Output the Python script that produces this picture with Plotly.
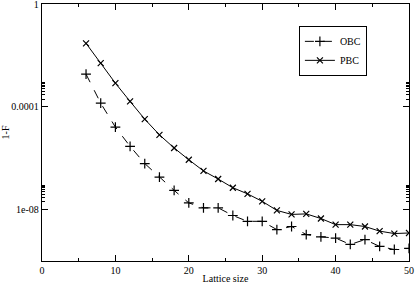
import plotly.graph_objects as go

lattice_size = [6, 8, 10, 12, 14, 16, 18, 20, 22, 24, 26, 28, 30, 32, 34, 36, 38, 40, 42, 44, 46, 48, 50]
obc = [1.86e-3, 1.38e-4, 1.62e-5, 2.9e-6, 6.2e-7, 1.82e-7, 5.6e-8, 1.82e-8, 1.17e-8, 1.17e-8,
       5.9e-9, 3.5e-9, 3.5e-9, 1.66e-9, 2.2e-9, 1.07e-9, 8.7e-10, 7.8e-10, 4.4e-10, 6.8e-10,
       3.7e-10, 2.8e-10, 3.1e-10]
pbc = [2.95e-2, 5.0e-3, 8.3e-4, 1.62e-4, 3.3e-5, 8.1e-6, 2.5e-6, 8.7e-7, 3.2e-7, 1.55e-7,
       7.1e-8, 4.1e-8, 2.1e-8, 9.3e-9, 6.5e-9, 6.8e-9, 4.5e-9, 2.6e-9, 2.6e-9, 2.2e-9,
       1.45e-9, 1.17e-9, 1.23e-9]
y_tickvals = [1, 1e-4, 1e-8]
y_ticktext = ["1", "0.0001", "1e-08"]
y_minor = [k * 1e-4 for k in range(2, 10)] + [k * 1e-8 for k in range(2, 10)]

font = "Liberation Serif, Times New Roman, serif"

fig = go.Figure()
fig.add_trace(go.Scatter(
    x=lattice_size, y=obc, name="OBC", mode="lines+markers",
    line=dict(color="black", width=1, dash="dash"),
    marker=dict(symbol="cross-thin", size=7, line=dict(color="black", width=1.2)),
))
fig.add_trace(go.Scatter(
    x=lattice_size, y=pbc, name="PBC", mode="lines+markers",
    line=dict(color="black", width=1),
    marker=dict(symbol="x-thin", size=6, line=dict(color="black", width=1.2)),
))

fig.update_layout(
    width=415, height=284,
    margin=dict(l=42, r=6, t=4, b=23, autoexpand=False),
    paper_bgcolor="white", plot_bgcolor="white",
    font=dict(family=font, size=10, color="black"),
    showlegend=True,
    legend=dict(x=0.70, y=0.915, xanchor="left", yanchor="top",
                bordercolor="black", borderwidth=1, bgcolor="white",
                font=dict(family=font, size=10), itemwidth=30,
                tracegroupgap=0),
)
fig.update_xaxes(
    range=[0, 50], tickvals=[0, 10, 20, 30, 40, 50],
    ticks="inside", ticklen=6, tickcolor="black",
    showline=True, linecolor="black", linewidth=1.3, mirror="ticks",
    showgrid=False, zeroline=False, automargin=False, ticklabeloverflow="allow",
    minor=dict(tickvals=[5, 15, 25, 35, 45], ticks="inside", ticklen=3, tickcolor="black"),
    title=dict(text="Lattice size", font=dict(family=font, size=10), standoff=0),
    tickfont=dict(family=font, size=10),
)
fig.update_yaxes(
    type="log", range=[-10, 0],
    tickvals=y_tickvals, ticktext=y_ticktext,
    ticks="inside", ticklen=6, tickcolor="black",
    showline=True, linecolor="black", linewidth=1.3, mirror="ticks",
    showgrid=False, zeroline=False, automargin=False, ticklabeloverflow="allow",
    minor=dict(tickvals=y_minor, ticks="inside", ticklen=3, tickcolor="black"),
    title=dict(text="1-F", font=dict(family=font, size=10), standoff=4),
    tickfont=dict(family=font, size=10),
)

fig.write_html("out.html", config={"displayModeBar": False},
               post_script="document.body.style.margin='0px';document.body.style.overflow='hidden';")
